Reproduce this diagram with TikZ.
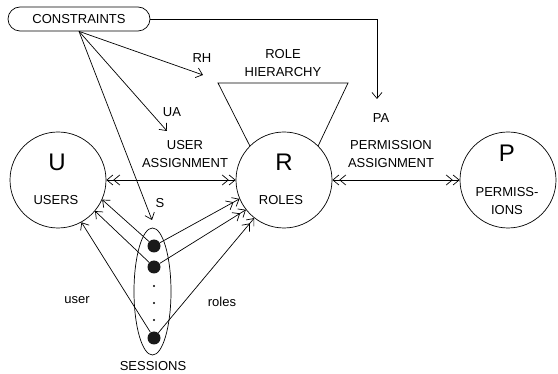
\documentclass[tikz,border=0pt]{standalone}
\usepackage{fontspec}
\setmainfont{Liberation Sans}
\usetikzlibrary{arrows.meta,shapes.geometric}

\begin{document}
\begin{tikzpicture}[x=1pt, y=-1pt, line width=0.7pt,
    >={Straight Barb[length=6pt,width=10pt]},
    font=\fontsize{13}{18}\selectfont]

    \tikzset{bigcircle/.style={%
      draw,%
      circle,%
      minimum size=96pt,%
      inner sep=0pt}%
    };
    \tikzset{pill/.style={%
      draw,%
      rectangle,%
      rounded corners=12pt,%
      minimum width=142pt,%
      minimum height=24pt}%
    };
    \tikzset{sdot/.style={circle, fill=black!90, minimum size=13pt, inner sep=0pt}};
    \tikzset{tinydot/.style={circle, fill=black, minimum size=2.2pt, inner sep=0pt}};
    \tikzset{letter/.style={font=\fontsize{24}{24}\selectfont}};
    \tikzset{lbl/.style={align=center, inner sep=0pt}};

    \useasboundingbox (0, 0) rectangle (558, 374);

    %%%%%%%%%%%%%%%
    % constraints %
    %%%%%%%%%%%%%%%
    \path (79, 19) node [pill] (cons) {CONSTRAINTS};

    \path (203, 75) coordinate (rh);
    \path (167, 131) coordinate (ua);
    \path (152, 220) coordinate (s);
    \path (377, 99) coordinate (pa);

    \path (202, 58) node (rhl) {RH};
    \path (172, 112) node (ual) {UA};
    \path (160, 203) node (sl) {S};
    \path (381, 118) node (pal) {PA};

    \draw [->] (cons.south) -- (rh);
    \draw [->] (cons.south) -- (ua);
    \draw [->] (cons.south) -- (s);
    \draw [->] (cons.east) -| (pa);

    %%%%%%%%%%%
    % circles %
    %%%%%%%%%%%
    \path (58, 180) node [bigcircle] (users) {};
    \path (284, 180) node [bigcircle] (roles) {};
    \path (508, 180) node [bigcircle] (perms) {};

    \path (57, 162) node [letter] (ul) {U};
    \path (56, 200) node (ut) {USERS};
    \path (284, 162) node [letter] (rl) {R};
    \path (281, 200) node (rt) {ROLES};
    \path (507, 153) node [letter] (pl) {P};
    \path (507, 201) node [lbl] (pt) {PERMISS-\\IONS};

    % role hierarchy
    \path (218, 83) coordinate (rht1);
    \path (348, 83) coordinate (rht2);
    \draw (roles.135) -- (rht1) -- (rht2) -- (roles.45);
    \path (283, 63) node [lbl] (rhier) {ROLE\\HIERARCHY};

    % assignments
    \draw [<<->>] (users) -- (roles);
    \draw [<<->>] (roles) -- (perms);
    \path (185, 154) node [lbl] (uass) {USER\\ASSIGNMENT};
    \path (391, 154) node [lbl] (pass) {PERMISSION\\ASSIGNMENT};

    %%%%%%%%%%%%
    % sessions %
    %%%%%%%%%%%%
    \path (152.5, 291.5) node [draw, ellipse, minimum width=37pt, minimum height=127pt, inner sep=0pt] (sessions) {};
    \path (154, 246) node [sdot] (s1) {};
    \path (154, 267) node [sdot] (s2) {};
    \path (154, 338) node [sdot] (s3) {};
    \path (154, 286) node [tinydot] (d1) {};
    \path (154, 303) node [tinydot] (d2) {};
    \path (154, 320) node [tinydot] (d3) {};
    \path (153, 366) node (sesl) {SESSIONS};

    \draw [->] (s1) -- (users.-24);
    \draw [->] (s2) -- (users.-40);
    \draw [->] (s3) -- (users.-61);
    \draw [->>] (s1) -- (roles.-157);
    \draw [->>] (s2) -- (roles.-142);
    \draw [->>] (s3) -- (roles.-128);

    \path (77, 300) node (userl) {user};
    \path (222, 302) node (rolesl) {roles};

  \end{tikzpicture}
\end{document}
